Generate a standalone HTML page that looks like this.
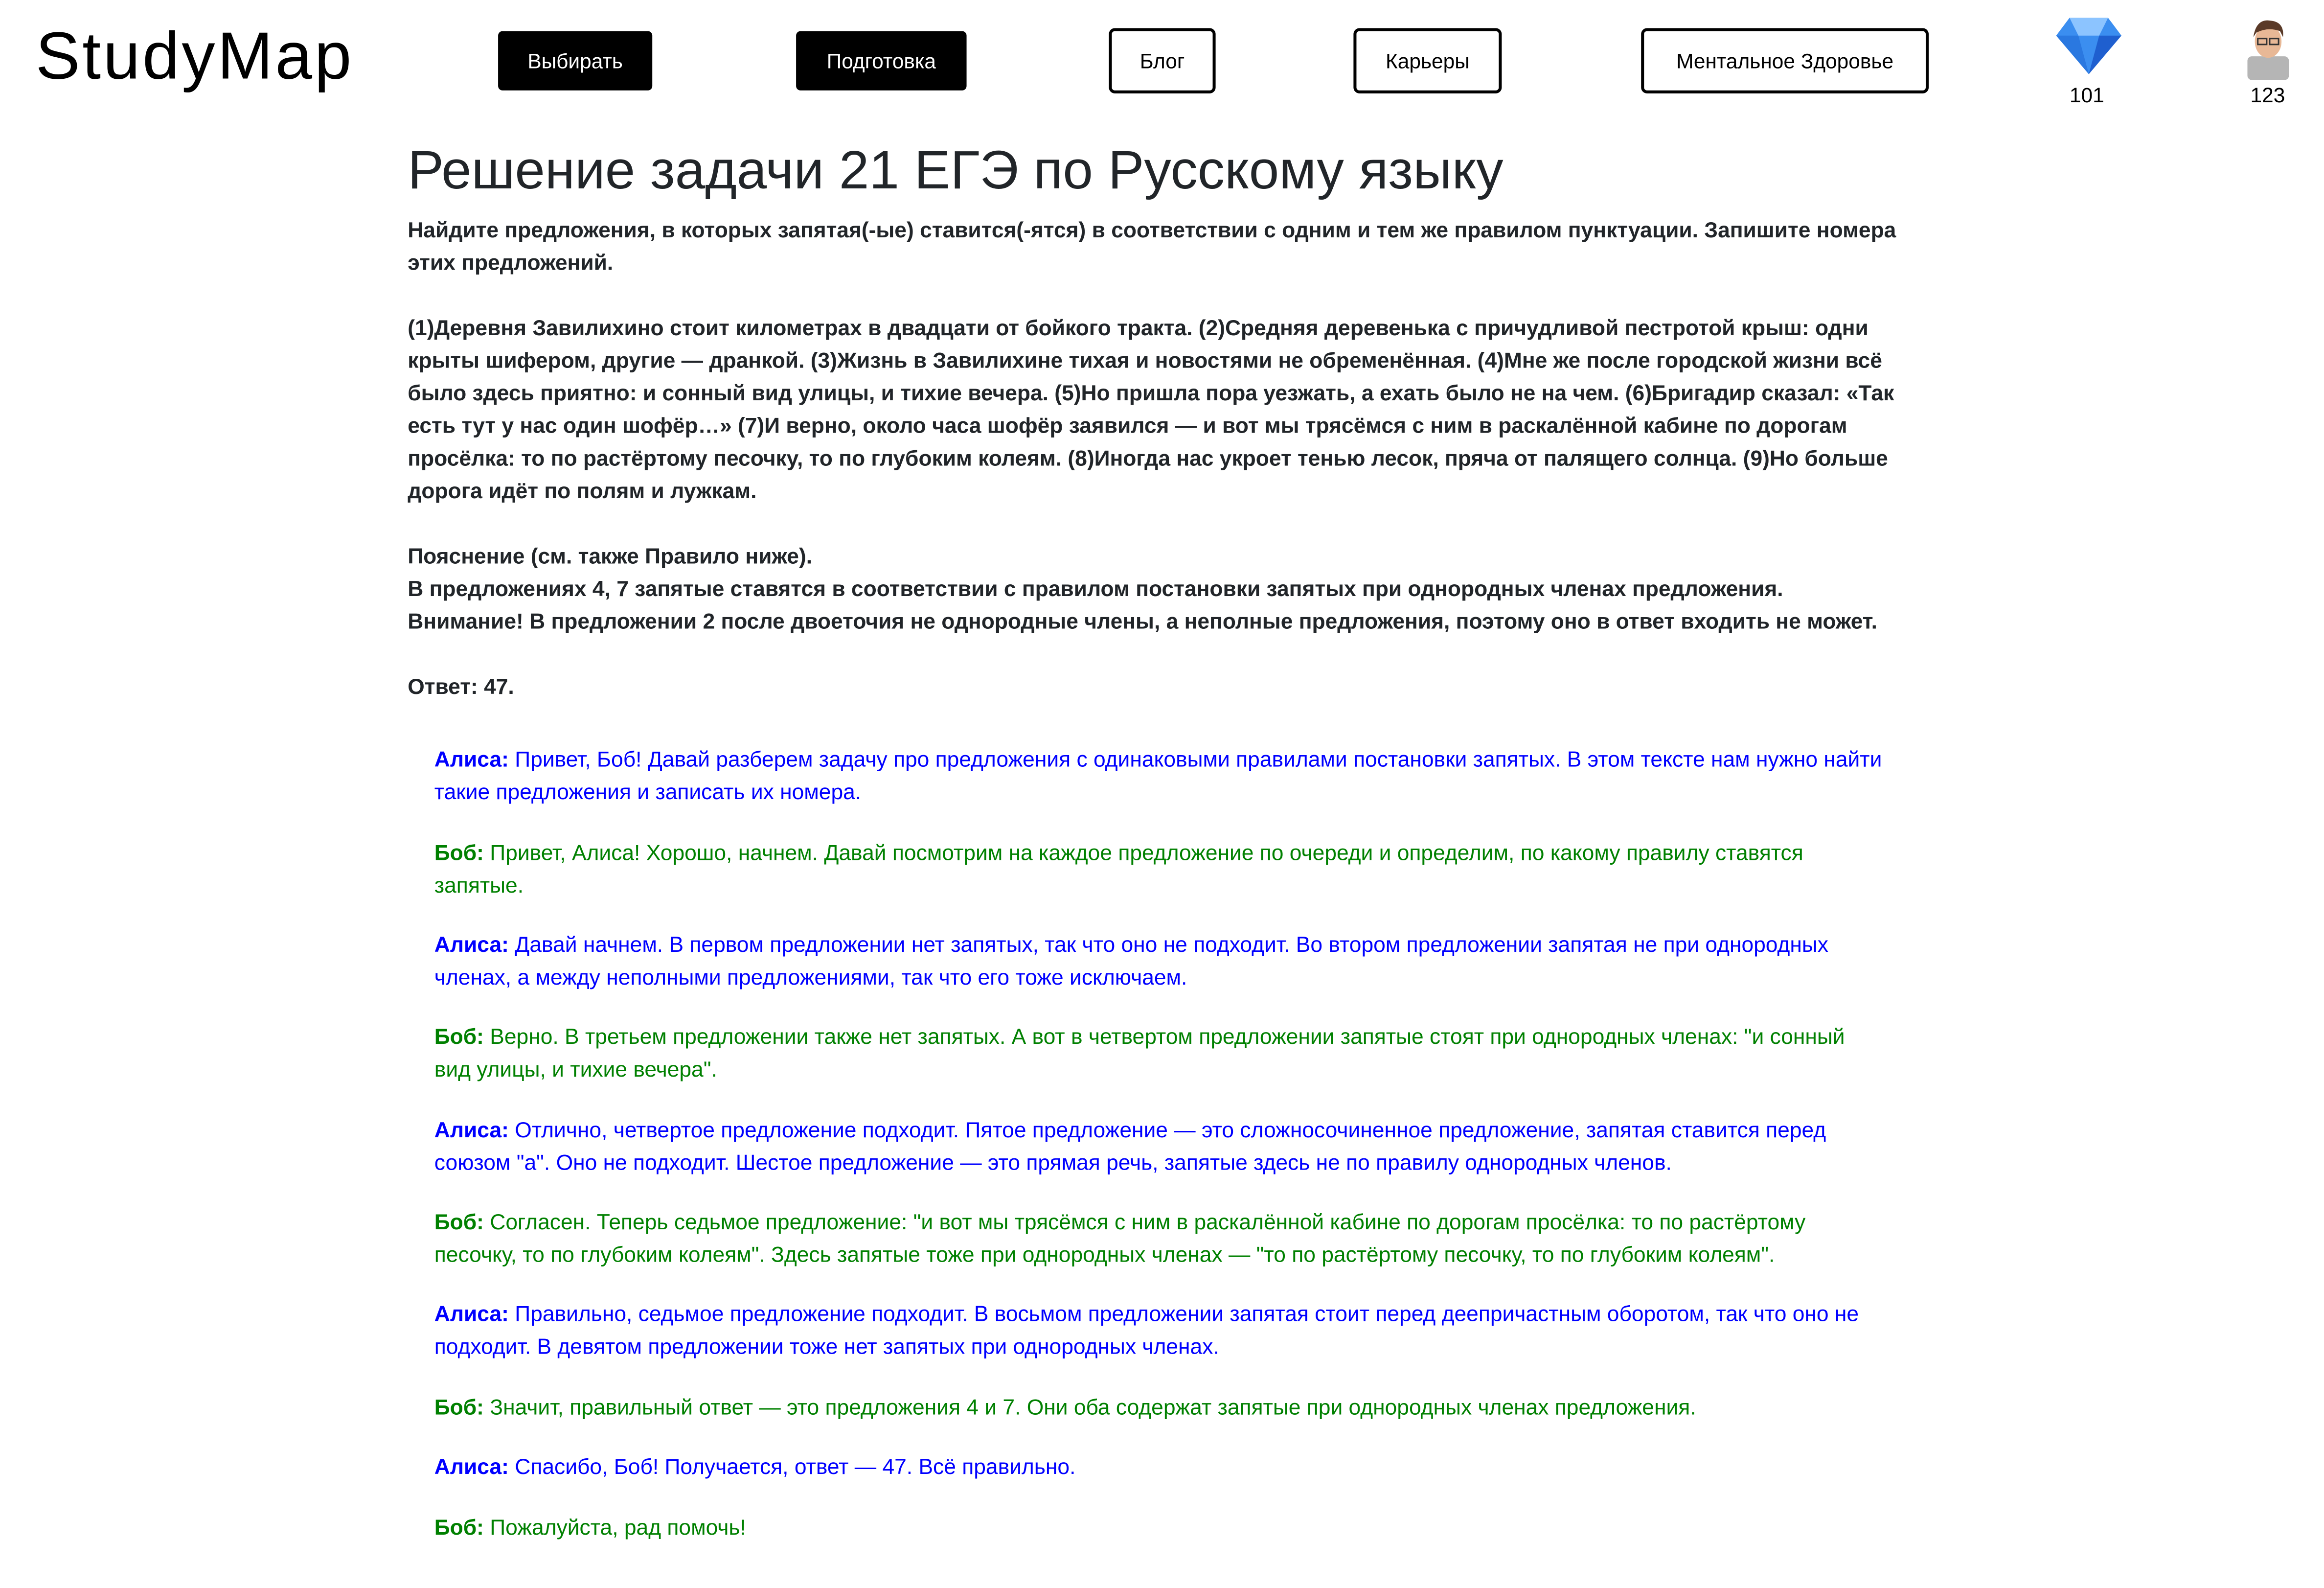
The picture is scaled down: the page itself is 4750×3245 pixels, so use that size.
<!DOCTYPE html>
<html><head><meta charset="utf-8">
<style>
html,body{margin:0;padding:0;background:#fff;}
body{width:4750px;height:3237px;overflow:hidden;}
#w{position:absolute;left:0;top:3px;width:1570px;height:1070px;transform:scale(3.03);transform-origin:0 0;font-family:"Liberation Sans","DejaVu Sans",sans-serif;color:#212529;}
.a{position:absolute;white-space:nowrap;}
.btn{position:absolute;box-sizing:border-box;font-size:14px;display:flex;align-items:center;justify-content:center;border-radius:3px;}
.dk{background:#000;color:#fff;}
.lt{background:#fff;color:#000;border:2px solid #000;border-radius:4px;}
.t{font-size:14.65px;line-height:22px;font-weight:bold;color:#212529;}
.d{font-size:14.65px;line-height:22px;}
.al{color:#0000ff}.bo{color:#008000}
</style></head><body>
<div id="w">
<div class="a" style="left:24px;top:11px;font-size:45px;color:#000;letter-spacing:1.5px;">StudyMap</div>
<div class="btn dk" style="left:336px;top:20px;width:104px;height:40px;">Выбирать</div>
<div class="btn dk" style="left:537px;top:20px;width:115px;height:40px;">Подготовка</div>
<div class="btn lt" style="left:748px;top:18px;width:72px;height:44px;">Блог</div>
<div class="btn lt" style="left:913px;top:18px;width:100px;height:44px;">Карьеры</div>
<div class="btn lt" style="left:1107px;top:18px;width:194px;height:44px;">Ментальное Здоровье</div>
<svg class="a" style="left:1386px;top:10px;" width="46" height="40" viewBox="0 0 46 40">
<polygon points="10,1 36,1 45,13 23,39 1,13" fill="#3b8ef0"/>
<polygon points="10,1 36,1 30,13 16,13" fill="#8cc4ff"/>
<polygon points="1,13 16,13 23,39" fill="#2a78e0"/>
<polygon points="45,13 30,13 23,39" fill="#1f5fcf"/>
</svg>
<div class="a" style="left:1396px;top:55px;font-size:14px;color:#000;">101</div>
<svg class="a" style="left:1514px;top:11px;" width="32" height="42" viewBox="0 0 32 42">
<rect x="2" y="26" width="28" height="16" rx="3" fill="#b5b5b5"/>
<ellipse cx="16" cy="16" rx="9" ry="11" fill="#e8b896"/>
<path d="M6 13 Q8 0 18 2 Q27 3 26 13 L24 9 Q16 6 8 10 Z" fill="#5a3a28"/>
<rect x="9" y="14" width="6" height="4" fill="none" stroke="#333" stroke-width="1"/>
<rect x="17" y="14" width="6" height="4" fill="none" stroke="#333" stroke-width="1"/>
</svg>
<div class="a" style="left:1518px;top:55px;font-size:14px;color:#000;">123</div>

<div class="a" style="left:275px;top:93px;font-size:36.5px;color:#212529;">Решение задачи 21 ЕГЭ по Русскому языку</div>

<div class="a t" style="left:275px;top:144px;">Найдите предложения, в которых запятая(-ые) ставится(-ятся) в соответствии с одним и тем же правилом пунктуации. Запишите номера<br>этих предложений.<br><br>(1)Деревня Завилихино стоит километрах в двадцати от бойкого тракта. (2)Средняя деревенька с причудливой пестротой крыш: одни<br>крыты шифером, другие — дранкой. (3)Жизнь в Завилихине тихая и новостями не обременённая. (4)Мне же после городской жизни всё<br>было здесь приятно: и сонный вид улицы, и тихие вечера. (5)Но пришла пора уезжать, а ехать было не на чем. (6)Бригадир сказал: «Так<br>есть тут у нас один шофёр…» (7)И верно, около часа шофёр заявился — и вот мы трясёмся с ним в раскалённой кабине по дорогам<br>просёлка: то по растёртому песочку, то по глубоким колеям. (8)Иногда нас укроет тенью лесок, пряча от палящего солнца. (9)Но больше<br>дорога идёт по полям и лужкам.<br><br>Пояснение (см. также Правило ниже).<br>В предложениях 4, 7 запятые ставятся в соответствии с правилом постановки запятых при однородных членах предложения.<br>Внимание! В предложении 2 после двоеточия не однородные члены, а неполные предложения, поэтому оно в ответ входить не может.<br><br>Ответ: 47.</div>

<div class="a d al" style="left:293px;top:501px;"><b>Алиса:</b> Привет, Боб! Давай разберем задачу про предложения с одинаковыми правилами постановки запятых. В этом тексте нам нужно найти<br>такие предложения и записать их номера.</div>
<div class="a d bo" style="left:293px;top:564px;"><b>Боб:</b> Привет, Алиса! Хорошо, начнем. Давай посмотрим на каждое предложение по очереди и определим, по какому правилу ставятся<br>запятые.</div>
<div class="a d al" style="left:293px;top:626px;"><b>Алиса:</b> Давай начнем. В первом предложении нет запятых, так что оно не подходит. Во втором предложении запятая не при однородных<br>членах, а между неполными предложениями, так что его тоже исключаем.</div>
<div class="a d bo" style="left:293px;top:688px;"><b>Боб:</b> Верно. В третьем предложении также нет запятых. А вот в четвертом предложении запятые стоят при однородных членах: "и сонный<br>вид улицы, и тихие вечера".</div>
<div class="a d al" style="left:293px;top:751px;"><b>Алиса:</b> Отлично, четвертое предложение подходит. Пятое предложение — это сложносочиненное предложение, запятая ставится перед<br>союзом "а". Оно не подходит. Шестое предложение — это прямая речь, запятые здесь не по правилу однородных членов.</div>
<div class="a d bo" style="left:293px;top:813px;"><b>Боб:</b> Согласен. Теперь седьмое предложение: "и вот мы трясёмся с ним в раскалённой кабине по дорогам просёлка: то по растёртому<br>песочку, то по глубоким колеям". Здесь запятые тоже при однородных членах — "то по растёртому песочку, то по глубоким колеям".</div>
<div class="a d al" style="left:293px;top:875px;"><b>Алиса:</b> Правильно, седьмое предложение подходит. В восьмом предложении запятая стоит перед деепричастным оборотом, так что оно не<br>подходит. В девятом предложении тоже нет запятых при однородных членах.</div>
<div class="a d bo" style="left:293px;top:938px;"><b>Боб:</b> Значит, правильный ответ — это предложения 4 и 7. Они оба содержат запятые при однородных членах предложения.</div>
<div class="a d al" style="left:293px;top:978px;"><b>Алиса:</b> Спасибо, Боб! Получается, ответ — 47. Всё правильно.</div>
<div class="a d bo" style="left:293px;top:1019px;"><b>Боб:</b> Пожалуйста, рад помочь!</div>
</div>
</body></html>
